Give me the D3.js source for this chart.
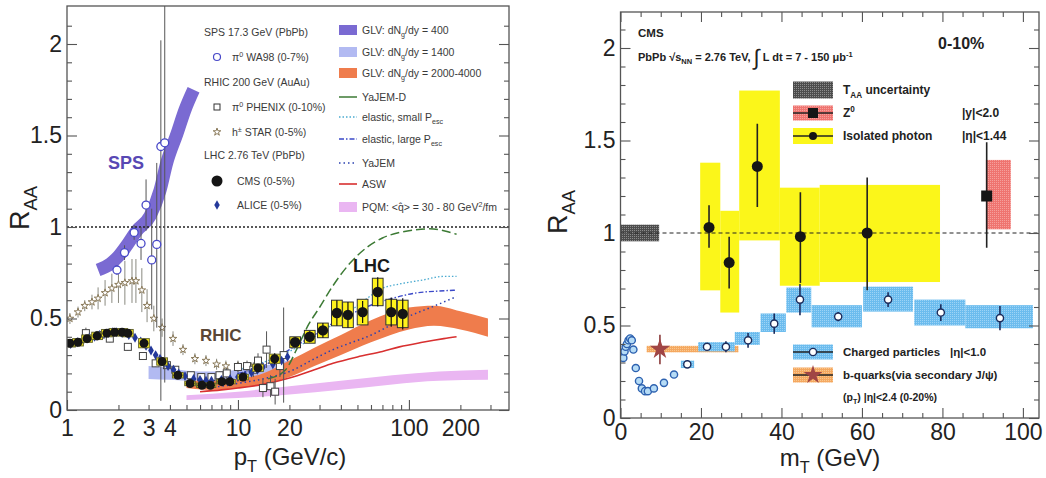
<!DOCTYPE html>
<html>
<head>
<meta charset="utf-8">
<script src="https://cdn.jsdelivr.net/npm/d3@7"></script>
<style>
body { margin: 0; background: #fff; }
svg { font-family: "Liberation Sans", Arial, sans-serif; }
</style>
</head>
<body>
<svg id="chart" width="1046" height="478"></svg>
<script>
// ---------- left panel data: R_AA vs pT ----------
var pTickLabels = [1, 2, 3, 4, 10, 20, 100, 200];
var rTickLabels = [0, 0.5, 1, 1.5, 2];

// GLV dNg/dy = 400 (SPS band, centre)
var glv400P = [1.52, 1.8, 2.0, 2.2, 2.56, 3.06, 3.5, 3.83, 4.4, 4.9, 5.5];
var glv400V = [0.765, 0.80, 0.84, 0.89, 0.98, 1.06, 1.2, 1.35, 1.51, 1.64, 1.75];
// GLV dNg/dy = 1400
var glv1400P = [3.0, 4, 5, 7, 10, 14, 19.6];
var glv1400Lo = [0.17, 0.165, 0.16, 0.16, 0.165, 0.175, 0.185];
var glv1400Hi = [0.24, 0.23, 0.215, 0.21, 0.22, 0.24, 0.27];
// GLV dNg/dy = 2000-4000
var glvLhcP = [5, 7, 10, 14, 20, 28, 40, 60, 100, 140, 200, 290];
var glvLhcLo = [0.12, 0.11, 0.12, 0.14, 0.18, 0.24, 0.30, 0.37, 0.44, 0.46, 0.44, 0.40];
var glvLhcHi = [0.16, 0.16, 0.17, 0.20, 0.27, 0.34, 0.41, 0.49, 0.56, 0.57, 0.54, 0.50];
// PQM
var pqmP = [5, 10, 20, 40, 80, 150, 290];
var pqmLo = [0.055, 0.065, 0.085, 0.11, 0.14, 0.16, 0.165];
var pqmHi = [0.08, 0.10, 0.13, 0.16, 0.19, 0.21, 0.22];
// model curves
var yajemDP = [15, 19, 22, 26, 30, 36, 45, 57, 70, 88, 110, 132, 160, 190];
var yajemDV = [0.17, 0.22, 0.33, 0.47, 0.56, 0.68, 0.80, 0.89, 0.94, 0.97, 0.985, 0.99, 0.98, 0.96];
var elSmallP = [10, 14, 20, 28, 40, 55, 70, 90, 120, 160, 190];
var elSmallV = [0.22, 0.26, 0.32, 0.40, 0.50, 0.60, 0.665, 0.69, 0.71, 0.73, 0.73];
var elLargeP = [10, 14, 20, 28, 36, 45, 57, 80, 111, 150, 190];
var elLargeV = [0.2, 0.24, 0.33, 0.41, 0.475, 0.52, 0.565, 0.61, 0.64, 0.65, 0.655];
var yajemP = [6, 8, 10, 14, 20, 28, 36, 45, 57, 70, 88, 111, 138, 190];
var yajemV = [0.12, 0.13, 0.145, 0.17, 0.21, 0.28, 0.33, 0.365, 0.40, 0.44, 0.49, 0.53, 0.565, 0.62];
var aswP = [6, 8, 10, 14, 20, 28, 36, 50, 70, 88, 120, 160, 190];
var aswV = [0.10, 0.11, 0.12, 0.14, 0.175, 0.22, 0.255, 0.29, 0.32, 0.345, 0.37, 0.39, 0.40];

// WA98 pi0
var wa98P = [1.96, 2.17, 2.47, 2.71, 2.9, 3.13, 3.35, 3.54, 3.73];
var wa98V = [0.765, 0.86, 0.97, 0.91, 1.12, 0.82, 0.905, 1.44, 1.46];
var wa98Lo = [0.74, 0.82, 0.93, 0.82, 0.98, 0.55, 0.45, 0.05, 0.15];
var wa98Hi = [0.79, 0.90, 1.01, 1.0, 1.26, 1.1, 1.35, 2.02, 2.3];
// STAR h+-
var starP = [1.04, 1.16, 1.27, 1.40, 1.52, 1.67, 1.83, 2.0, 2.18, 2.4, 2.53, 2.74, 2.94, 3.22, 3.6, 4.17, 4.77, 5.6, 6.5, 7.5, 8.5, 10, 12];
var starV = [0.50, 0.535, 0.57, 0.59, 0.61, 0.64, 0.665, 0.685, 0.695, 0.705, 0.705, 0.655, 0.57, 0.50, 0.45, 0.39, 0.33, 0.28, 0.27, 0.25, 0.24, 0.24, 0.23];
var starErr = [0.03, 0.03, 0.03, 0.04, 0.06, 0.07, 0.08, 0.1, 0.12, 0.12, 0.12, 0.12, 0.09, 0.07, 0.05, 0.04, 0.03, 0.03, 0.03, 0.03, 0.03, 0.03, 0.03];
// PHENIX pi0
var phxP = [1.07, 1.29, 1.55, 1.78, 2.27, 2.78, 3.3, 3.84, 4.3, 5.3, 6.1, 7.0, 7.8, 8.6, 10, 11.3, 12.3, 13.1, 14, 14.7, 15.5, 16.5, 17.6, 18.5];
var phxV = [0.365, 0.42, 0.41, 0.39, 0.345, 0.295, 0.255, 0.245, 0.22, 0.19, 0.18, 0.18, 0.19, 0.2, 0.235, 0.24, 0.22, 0.27, 0.12, 0.33, 0.13, 0.10, 0.24, 0.30];
var phxErr = [0.02, 0.03, 0.02, 0.02, 0.02, 0.02, 0.02, 0.02, 0.02, 0.02, 0.02, 0.02, 0.02, 0.03, 0.03, 0.03, 0.04, 0.04, 0.05, 0.1, 0.06, 0.07, 0.06, 0.26];
// ALICE
var aliceP = [1.05, 1.15, 1.25, 1.35, 1.45, 1.55, 1.65, 1.75, 1.85, 1.95, 2.1, 2.3, 2.5, 2.7, 2.9, 3.1, 3.3, 3.5, 3.7, 3.9, 4.2, 4.5, 4.9, 5.5, 6.0, 6.5, 7.0, 8.0, 9.0, 10, 11, 12, 13, 14, 16, 18, 19.5];
var aliceV = [0.36, 0.37, 0.385, 0.395, 0.40, 0.41, 0.415, 0.42, 0.425, 0.425, 0.42, 0.41, 0.395, 0.375, 0.35, 0.325, 0.30, 0.28, 0.26, 0.24, 0.22, 0.20, 0.185, 0.17, 0.165, 0.16, 0.16, 0.165, 0.17, 0.18, 0.19, 0.205, 0.22, 0.235, 0.25, 0.27, 0.29];
// CMS
var cmsP = [1.04, 1.16, 1.31, 1.5, 1.71, 1.9, 2.1, 2.27, 2.82, 3.6, 4.45, 5.25, 6.15, 6.9, 8.05, 8.97, 10.7, 13.1, 16.4, 21.6, 26.3, 31.4, 37.9, 44, 53.6, 65.7, 78.8, 92];
var cmsV = [0.365, 0.37, 0.39, 0.405, 0.42, 0.425, 0.425, 0.42, 0.365, 0.265, 0.19, 0.145, 0.135, 0.135, 0.155, 0.155, 0.18, 0.23, 0.28, 0.37, 0.40, 0.435, 0.53, 0.52, 0.535, 0.645, 0.535, 0.525];
var cmsStat = [0.01, 0.01, 0.01, 0.01, 0.01, 0.01, 0.01, 0.01, 0.01, 0.01, 0.01, 0.01, 0.01, 0.01, 0.01, 0.01, 0.015, 0.02, 0.03, 0.02, 0.03, 0.04, 0.07, 0.07, 0.06, 0.08, 0.08, 0.085];
var cmsSys = [0.02, 0.02, 0.02, 0.02, 0.02, 0.02, 0.02, 0.02, 0.025, 0.02, 0.015, 0.012, 0.012, 0.012, 0.012, 0.012, 0.015, 0.02, 0.025, 0.03, 0.035, 0.04, 0.07, 0.07, 0.07, 0.075, 0.07, 0.075];

// ---------- right panel data: R_AA vs mT ----------
var mTickLabels = [0, 20, 40, 60, 80, 100];
var taaBin = [0, 9.6], taaBand = [0.955, 1.045];

var photonM = [22.0, 27.0, 34.0, 44.7, 61.3];
var photonV = [1.03, 0.84, 1.36, 0.98, 1.0];
var photonLo = [0.92, 0.70, 1.14, 0.73, 0.69];
var photonHi = [1.15, 0.98, 1.59, 1.22, 1.30];
var photonBinLo = [19.8, 24.8, 29.5, 39.6, 49.5];
var photonBinHi = [24.8, 29.5, 39.6, 49.5, 79.4];
var photonSysLo = [0.69, 0.57, 0.96, 0.715, 0.735];
var photonSysHi = [1.38, 1.12, 1.77, 1.245, 1.26];

var zM = [91], zV = [1.20], zLo = [0.92], zHi = [1.49];
var zBinLo = [90.8], zBinHi = [97], zSysLo = [1.02], zSysHi = [1.395];

var chM = [16.6, 21.5, 26.2, 31.7, 38.2, 44.6, 54.1, 66.5, 79.6, 94.3];
var chV = [0.29, 0.385, 0.385, 0.42, 0.51, 0.64, 0.548, 0.64, 0.57, 0.54];
var chErr = [0.015, 0.02, 0.03, 0.04, 0.055, 0.085, 0.025, 0.04, 0.045, 0.065];
var chBinLo = [15, 19.3, 24.0, 28.4, 34.8, 41.2, 47.5, 60.3, 73, 85.7];
var chBinHi = [18.3, 24.0, 28.4, 34.6, 41.1, 47.4, 60, 72.7, 85.7, 102.5];
var chSysLo = [0.27, 0.36, 0.36, 0.395, 0.465, 0.57, 0.49, 0.575, 0.50, 0.485];
var chSysHi = [0.31, 0.41, 0.41, 0.465, 0.565, 0.705, 0.61, 0.71, 0.64, 0.61];
var chLowM = [0.7, 1.0, 1.3, 1.6, 2.0, 2.4, 2.8, 3.2, 3.8, 4.6, 5.3, 6.1, 6.8, 8.3, 10.8, 13.3];
var chLowV = [0.325, 0.36, 0.385, 0.40, 0.42, 0.43, 0.42, 0.37, 0.27, 0.20, 0.16, 0.145, 0.145, 0.16, 0.19, 0.235];

var bM = [9.8], bV = [0.372], bLo = [0.29], bHi = [0.45];
var bBinLo = [6.5], bBinHi = [29.3], bSysLo = [0.355], bSysHi = [0.39];

// ---------- setup ----------
var svg = d3.select('#chart');
var defs = svg.append('defs');

function dotPattern(id, base, dot, size) {
  var p = defs.append('pattern').attr('id', id).attr('width', size).attr('height', size)
    .attr('patternUnits', 'userSpaceOnUse');
  p.append('rect').attr('width', size).attr('height', size).attr('fill', base);
  p.append('rect').attr('width', 1).attr('height', 1).attr('fill', dot);
}
dotPattern('taaPat', '#4c4c4c', '#8c8c8c', 2);
dotPattern('chPat', '#6cbcee', '#9dd4f6', 2);
dotPattern('zPat', '#ef7470', '#f5a09c', 2);
dotPattern('bPat', '#f5a860', '#f8c890', 2);

function rich(g, x, y, parts, size) {
  var t = g.append('text').attr('x', x).attr('y', y).style('font-size', size + 'px');
  var shift = 0;
  parts.forEach(function(p) {
    var s = typeof p === 'string' ? p : p[0];
    var kind = typeof p === 'string' ? null : p[1];
    var target = kind === 'sub' ? size * 0.3 : kind === 'sup' ? -size * 0.4 : 0;
    var ts = t.append('tspan').attr('dy', target - shift).text(s);
    if (kind) ts.style('font-size', (size * 0.68) + 'px');
    shift = target;
  });
  return t;
}

function isMajorHalf(d) { return Math.abs(d * 2 - Math.round(d * 2)) < 1e-6; }
function styleAxis(g, size) {
  g.select('.domain').remove();
  g.selectAll('.tick line').attr('stroke', '#555').attr('stroke-width', 1.1);
  g.selectAll('.tick text').attr('fill', '#222').style('font-size', size + 'px')
    .style('font-family', '"Liberation Sans", Arial, sans-serif');
}
function fmtR(d) { return rTickLabels.indexOf(+d.toFixed(2)) >= 0 ? d3.format('')(+d.toFixed(2)) : ''; }

var lineGen = function(x, y) {
  return d3.line().x(function(d) { return x(d[0]); }).y(function(d) { return y(d[1]); }).curve(d3.curveMonotoneX);
};
var areaGen = function(x, y) {
  return d3.area().x(function(d) { return x(d[0]); }).y0(function(d) { return y(d[1]); })
    .y1(function(d) { return y(d[2]); }).curve(d3.curveMonotoneX);
};
function zip2(a, b) { return a.map(function(v, i) { return [v, b[i]]; }); }
function zip3(a, b, c) { return a.map(function(v, i) { return [v, b[i], c[i]]; }); }

// ================= LEFT PANEL =================
var L = { l: 67, r: 509, t: 6, b: 410 };
var xL = d3.scaleLog().domain([1, 385]).range([L.l, L.r]);
var yL = d3.scaleLinear().domain([0, 2.2]).range([L.b, L.b - 2.2 * 183]);

var left = svg.append('g');
defs.append('clipPath').attr('id', 'clipL').append('rect')
  .attr('x', L.l).attr('y', L.t).attr('width', L.r - L.l).attr('height', L.b - L.t);
var plotL = left.append('g').attr('clip-path', 'url(#clipL)');

// bands
plotL.append('path').datum(zip3(pqmP, pqmLo, pqmHi)).attr('d', areaGen(xL, yL)).attr('fill', '#eab6f2');
plotL.append('path').datum(zip3(glv1400P, glv1400Lo, glv1400Hi)).attr('d', areaGen(xL, yL)).attr('fill', '#b2baf2');
plotL.append('path').datum(zip3(glvLhcP, glvLhcLo, glvLhcHi)).attr('d', areaGen(xL, yL)).attr('fill', '#ef7c4c');
plotL.append('path').datum(zip2(glv400P, glv400V)).attr('d', lineGen(xL, yL))
  .attr('fill', 'none').attr('stroke', '#7a6ad2').attr('stroke-width', 13);

// model curves
plotL.append('path').datum(zip2(aswP, aswV)).attr('d', lineGen(xL, yL))
  .attr('fill', 'none').attr('stroke', '#d83030').attr('stroke-width', 1.6);
plotL.append('path').datum(zip2(yajemP, yajemV)).attr('d', lineGen(xL, yL))
  .attr('fill', 'none').attr('stroke', '#2a40b0').attr('stroke-width', 1.5).attr('stroke-dasharray', '1.5,3');
plotL.append('path').datum(zip2(elLargeP, elLargeV)).attr('d', lineGen(xL, yL))
  .attr('fill', 'none').attr('stroke', '#3a48c8').attr('stroke-width', 1.4).attr('stroke-dasharray', '5,2,1.5,2');
plotL.append('path').datum(zip2(elSmallP, elSmallV)).attr('d', lineGen(xL, yL))
  .attr('fill', 'none').attr('stroke', '#4aaad0').attr('stroke-width', 1.3).attr('stroke-dasharray', '1.5,2');
plotL.append('path').datum(zip2(yajemDP, yajemDV)).attr('d', lineGen(xL, yL))
  .attr('fill', 'none').attr('stroke', '#3c7a34').attr('stroke-width', 1.5).attr('stroke-dasharray', '9,4');

// reference line
plotL.append('line').attr('x1', L.l).attr('x2', L.r).attr('y1', yL(1)).attr('y2', yL(1))
  .attr('stroke', '#222').attr('stroke-width', 1.6).attr('stroke-dasharray', '2,2');

// STAR
plotL.selectAll('.starErr').data(zip3(starP, starV, starErr)).enter().append('line')
  .attr('x1', function(d) { return xL(d[0]); }).attr('x2', function(d) { return xL(d[0]); })
  .attr('y1', function(d) { return yL(d[1] - d[2]); }).attr('y2', function(d) { return yL(d[1] + d[2]); })
  .attr('stroke', '#8a8a80').attr('stroke-width', 1);
plotL.selectAll('.starPt').data(zip2(starP, starV)).enter().append('path')
  .attr('d', d3.symbol().type(d3.symbolStar).size(18))
  .attr('transform', function(d) { return 'translate(' + xL(d[0]) + ',' + yL(d[1]) + ')'; })
  .attr('fill', '#fff').attr('stroke', '#8a7a5a').attr('stroke-width', 1);

// PHENIX
plotL.selectAll('.phxErr').data(zip3(phxP, phxV, phxErr)).enter().append('line')
  .attr('x1', function(d) { return xL(d[0]); }).attr('x2', function(d) { return xL(d[0]); })
  .attr('y1', function(d) { return yL(d[1] - d[2]); }).attr('y2', function(d) { return yL(d[1] + d[2]); })
  .attr('stroke', '#555').attr('stroke-width', 1);
plotL.selectAll('.phxPt').data(zip2(phxP, phxV)).enter().append('rect')
  .attr('x', function(d) { return xL(d[0]) - 3.5; }).attr('y', function(d) { return yL(d[1]) - 3.5; })
  .attr('width', 7).attr('height', 7).attr('fill', '#fff').attr('stroke', '#444').attr('stroke-width', 1);

// WA98
plotL.selectAll('.waErr').data(zip3(wa98P, wa98Lo, wa98Hi)).enter().append('line')
  .attr('x1', function(d) { return xL(d[0]); }).attr('x2', function(d) { return xL(d[0]); })
  .attr('y1', function(d) { return yL(d[1]); }).attr('y2', function(d) { return yL(d[2]); })
  .attr('stroke', '#555').attr('stroke-width', 1);
plotL.selectAll('.waPt').data(zip2(wa98P, wa98V)).enter().append('circle')
  .attr('cx', function(d) { return xL(d[0]); }).attr('cy', function(d) { return yL(d[1]); })
  .attr('r', 4).attr('fill', '#fff').attr('stroke', '#4848c8').attr('stroke-width', 1.3);

// ALICE
plotL.selectAll('.alPt').data(zip2(aliceP, aliceV)).enter().append('path')
  .attr('d', d3.symbol().type(d3.symbolDiamond).size(28))
  .attr('transform', function(d) { return 'translate(' + xL(d[0]) + ',' + yL(d[1]) + ')'; })
  .attr('fill', '#23389a');

// CMS
var boxF = 1.075;
var cmsData = cmsP.map(function(p, i) { return { p: p, v: cmsV[i], st: cmsStat[i], sy: cmsSys[i] }; });
plotL.selectAll('.cmsBox').data(cmsData).enter().append('rect')
  .attr('x', function(d) { return xL(d.p / boxF); })
  .attr('width', function(d) { return xL(d.p * boxF) - xL(d.p / boxF); })
  .attr('y', function(d) { return yL(d.v + d.sy); })
  .attr('height', function(d) { return yL(d.v - d.sy) - yL(d.v + d.sy); })
  .attr('fill', '#fff21c').attr('stroke', function(d) { return d.p > 20 ? '#333' : '#6a6a30'; }).attr('stroke-width', 1);
plotL.selectAll('.cmsErr').data(cmsData).enter().append('line')
  .attr('x1', function(d) { return xL(d.p); }).attr('x2', function(d) { return xL(d.p); })
  .attr('y1', function(d) { return yL(d.v - d.st); }).attr('y2', function(d) { return yL(d.v + d.st); })
  .attr('stroke', '#111').attr('stroke-width', 1.2);
plotL.selectAll('.cmsPt').data(cmsData).enter().append('circle')
  .attr('cx', function(d) { return xL(d.p); }).attr('cy', function(d) { return yL(d.v); })
  .attr('r', function(d) { return d.p > 20 ? 5.2 : 4.5; }).attr('fill', '#151515');

// text labels
left.append('text').attr('x', 108).attr('y', 169).text('SPS')
  .style('font-size', '18px').style('font-weight', 'bold').attr('fill', '#5848b4');
left.append('text').attr('x', 200).attr('y', 341).text('RHIC')
  .style('font-size', '17px').style('font-weight', 'bold').attr('fill', '#5a4636');
left.append('text').attr('x', 353).attr('y', 272).text('LHC')
  .style('font-size', '18px').style('font-weight', 'bold').attr('fill', '#1a1a1a');

// legend column 1
var lg1 = left.append('g').attr('fill', '#3a3a3a');
rich(lg1, 204, 36, ['SPS 17.3 GeV (PbPb)'], 10.5);
rich(lg1, 232, 61, ['π', ['0', 'sup'], '  WA98 (0-7%)'], 10.5);
rich(lg1, 204, 86, ['RHIC 200 GeV (AuAu)'], 10.5);
rich(lg1, 232, 111, ['π', ['0', 'sup'], '  PHENIX (0-10%)'], 10.5);
rich(lg1, 232, 136, ['h', ['±', 'sup'], '  STAR (0-5%)'], 10.5);
rich(lg1, 204, 159, ['LHC 2.76 TeV (PbPb)'], 10.5);
rich(lg1, 237, 185, ['CMS (0-5%)'], 10.5);
rich(lg1, 237, 209, ['ALICE (0-5%)'], 10.5);
left.append('circle').attr('cx', 217).attr('cy', 57).attr('r', 3.5).attr('fill', '#fff').attr('stroke', '#4848c8').attr('stroke-width', 1.2);
left.append('rect').attr('x', 214).attr('y', 104).attr('width', 6).attr('height', 6).attr('fill', '#fff').attr('stroke', '#333');
left.append('path').attr('d', d3.symbol().type(d3.symbolStar).size(18)).attr('transform', 'translate(217,132)')
  .attr('fill', '#fff').attr('stroke', '#8a7a5a');
left.append('circle').attr('cx', 217).attr('cy', 181).attr('r', 5.5).attr('fill', '#151515');
left.append('path').attr('d', d3.symbol().type(d3.symbolDiamond).size(26)).attr('transform', 'translate(217,205)').attr('fill', '#23389a');

// legend column 2
var lg2 = left.append('g').attr('fill', '#3a3a3a');
var sw = 339, sww = 18;
left.append('rect').attr('x', sw).attr('y', 25).attr('width', sww).attr('height', 10).attr('fill', '#7a6ad2');
left.append('rect').attr('x', sw).attr('y', 47).attr('width', sww).attr('height', 10).attr('fill', '#b2baf2');
left.append('rect').attr('x', sw).attr('y', 68).attr('width', sww).attr('height', 10).attr('fill', '#ef7c4c');
left.append('line').attr('x1', sw).attr('x2', sw + sww).attr('y1', 97).attr('y2', 97).attr('stroke', '#3c7a34').attr('stroke-width', 1.5);
left.append('line').attr('x1', sw).attr('x2', sw + sww).attr('y1', 117).attr('y2', 117).attr('stroke', '#4aaad0').attr('stroke-width', 1.3).attr('stroke-dasharray', '1.5,2');
left.append('line').attr('x1', sw).attr('x2', sw + sww).attr('y1', 139).attr('y2', 139).attr('stroke', '#3a48c8').attr('stroke-width', 1.4).attr('stroke-dasharray', '5,2,1.5,2');
left.append('line').attr('x1', sw).attr('x2', sw + sww).attr('y1', 163).attr('y2', 163).attr('stroke', '#2a40b0').attr('stroke-width', 1.5).attr('stroke-dasharray', '1.5,3');
left.append('line').attr('x1', sw).attr('x2', sw + sww).attr('y1', 184).attr('y2', 184).attr('stroke', '#d83030').attr('stroke-width', 1.6);
left.append('rect').attr('x', sw).attr('y', 202).attr('width', sww).attr('height', 10).attr('fill', '#eab6f2');
rich(lg2, 362, 34, ['GLV: dN', ['g', 'sub'], '/dy = 400'], 10.5);
rich(lg2, 362, 56, ['GLV: dN', ['g', 'sub'], '/dy = 1400'], 10.5);
rich(lg2, 362, 77, ['GLV: dN', ['g', 'sub'], '/dy = 2000-4000'], 10.5);
rich(lg2, 362, 101, ['YaJEM-D'], 10.5);
rich(lg2, 362, 121, ['elastic, small P', ['esc', 'sub']], 10.5);
rich(lg2, 362, 143, ['elastic, large P', ['esc', 'sub']], 10.5);
rich(lg2, 362, 167, ['YaJEM'], 10.5);
rich(lg2, 362, 188, ['ASW'], 10.5);
rich(lg2, 362, 211, ['PQM: <q̂> = 30 - 80 GeV', ['2', 'sup'], '/fm'], 10.5);

// axes
var rMinor = d3.range(0, 22).map(function(i) { return i / 10; });
var gyl = left.append('g').attr('transform', 'translate(' + L.l + ',0)')
  .call(d3.axisLeft(yL).tickValues(rMinor).tickSize(-5).tickPadding(5).tickFormat(fmtR));
gyl.selectAll('.tick line').filter(isMajorHalf).attr('x2', 10);
styleAxis(gyl, 23);
var gyr = left.append('g').attr('transform', 'translate(' + L.r + ',0)')
  .call(d3.axisRight(yL).tickValues(rMinor).tickSize(-5).tickFormat(''));
gyr.selectAll('.tick line').filter(isMajorHalf).attr('x2', -10);
styleAxis(gyr, 23);
var pMinor = [1, 2, 3, 4, 5, 6, 7, 8, 9, 10, 20, 30, 40, 50, 60, 70, 80, 90, 100, 200, 300];
var gxl = left.append('g').attr('transform', 'translate(0,' + L.b + ')')
  .call(d3.axisBottom(xL).tickValues(pMinor).tickSize(-5).tickPadding(10)
    .tickFormat(function(d) { return pTickLabels.indexOf(d) >= 0 ? d : ''; }));
gxl.selectAll('.tick line').filter(function(d) { return d === 1 || d === 10 || d === 100; }).attr('y2', -10);
styleAxis(gxl, 23);
left.append('rect').attr('x', L.l).attr('y', L.t).attr('width', L.r - L.l).attr('height', L.b - L.t)
  .attr('fill', 'none').attr('stroke', '#555').attr('stroke-width', 1.3);

rich(left, 0, 0, ['R', ['AA', 'sub']], 27).attr('fill', '#222').attr('text-anchor', 'middle')
  .attr('transform', 'translate(29,208) rotate(-90)');
rich(left, 290, 465, ['p', ['T', 'sub'], ' (GeV/c)'], 24).attr('fill', '#222').attr('text-anchor', 'middle');

// ================= RIGHT PANEL =================
var R = { l: 620.5, r: 1039, t: 12, b: 418 };
var xR = d3.scaleLinear().domain([0, 104]).range([R.l, R.r]);
var yR = d3.scaleLinear().domain([0, 2.19]).range([R.b, R.b - 2.19 * 185]);
var right = svg.append('g');
defs.append('clipPath').attr('id', 'clipR').append('rect')
  .attr('x', R.l).attr('y', R.t).attr('width', R.r - R.l).attr('height', R.b - R.t);
var plotR = right.append('g').attr('clip-path', 'url(#clipR)');

function binBoxes(g, lo, hi, sLo, sHi, fill) {
  g.selectAll(null).data(lo.map(function(v, i) { return [v, hi[i], sLo[i], sHi[i]]; })).enter().append('rect')
    .attr('x', function(d) { return xR(d[0]); }).attr('width', function(d) { return xR(d[1]) - xR(d[0]); })
    .attr('y', function(d) { return yR(d[3]); }).attr('height', function(d) { return yR(d[2]) - yR(d[3]); })
    .attr('fill', fill);
}
function errBars(g, m, lo, hi, color) {
  g.selectAll(null).data(m.map(function(v, i) { return [v, lo[i], hi[i]]; })).enter().append('line')
    .attr('x1', function(d) { return xR(d[0]); }).attr('x2', function(d) { return xR(d[0]); })
    .attr('y1', function(d) { return yR(d[1]); }).attr('y2', function(d) { return yR(d[2]); })
    .attr('stroke', color).attr('stroke-width', 1.6);
}

binBoxes(plotR, [taaBin[0]], [taaBin[1]], [taaBand[0]], [taaBand[1]], 'url(#taaPat)');
binBoxes(plotR, photonBinLo, photonBinHi, photonSysLo, photonSysHi, '#fbf61a');
binBoxes(plotR, zBinLo, zBinHi, zSysLo, zSysHi, 'url(#zPat)');
binBoxes(plotR, bBinLo, bBinHi, bSysLo, bSysHi, 'url(#bPat)');
binBoxes(plotR, chBinLo, chBinHi, chSysLo, chSysHi, 'url(#chPat)');

plotR.append('line').attr('x1', xR(0)).attr('x2', xR(104)).attr('y1', yR(1)).attr('y2', yR(1))
  .attr('stroke', '#222').attr('stroke-width', 1).attr('stroke-dasharray', '4,3');

errBars(plotR, photonM, photonLo, photonHi, '#222');
errBars(plotR, zM, zLo, zHi, '#222');
errBars(plotR, bM, bLo, bHi, '#8a3a3a');
errBars(plotR, chM, chM.map(function(m, i) { return chV[i] - chErr[i]; }), chM.map(function(m, i) { return chV[i] + chErr[i]; }), '#1c2c5c');

plotR.selectAll('.ph').data(zip2(photonM, photonV)).enter().append('circle')
  .attr('cx', function(d) { return xR(d[0]); }).attr('cy', function(d) { return yR(d[1]); })
  .attr('r', 5.5).attr('fill', '#151515');
plotR.selectAll('.zz').data(zip2(zM, zV)).enter().append('rect')
  .attr('x', function(d) { return xR(d[0]) - 5.5; }).attr('y', function(d) { return yR(d[1]) - 5.5; })
  .attr('width', 11).attr('height', 11).attr('fill', '#151515');
plotR.selectAll('.bq').data(zip2(bM, bV)).enter().append('path')
  .attr('d', d3.symbol().type(d3.symbolStar).size(130))
  .attr('transform', function(d) { return 'translate(' + xR(d[0]) + ',' + yR(d[1]) + ')'; })
  .attr('fill', '#a04545');
plotR.selectAll('.chl').data(zip2(chLowM, chLowV)).enter().append('circle')
  .attr('cx', function(d) { return xR(d[0]); }).attr('cy', function(d) { return yR(d[1]); })
  .attr('r', 3.6).attr('fill', '#b6dcf6').attr('stroke', '#2e62b0').attr('stroke-width', 1.4);
plotR.selectAll('.chh').data(zip2(chM, chV)).enter().append('circle')
  .attr('cx', function(d) { return xR(d[0]); }).attr('cy', function(d) { return yR(d[1]); })
  .attr('r', 3.6).attr('fill', '#fff').attr('stroke', '#1c2c5c').attr('stroke-width', 1.4);

// header texts
var hdr = right.append('g').attr('fill', '#222').style('font-weight', 'bold');
rich(hdr, 638, 37, ['CMS'], 11.5);
var h2 = rich(hdr, 638, 61, ['PbPb ', '√', 's', ['NN', 'sub'], ' = 2.76 TeV, '], 11);
h2.append('tspan').style('font-size', '22px').style('font-weight', 'normal').attr('dy', 4).text('∫');
h2.append('tspan').attr('dy', -4).text(' L dt = 7 - 150 μb');
h2.append('tspan').attr('dy', -4.5).style('font-size', '7.5px').text('-1');
rich(hdr, 938, 49, ['0-10%'], 16);

// legend
var lgx = 793, lgw = 40, lgt = 843;
function legendRow(y, fill, h) {
  right.append('rect').attr('x', lgx).attr('y', y - h / 2).attr('width', lgw).attr('height', h).attr('fill', fill);
}
legendRow(90, 'url(#taaPat)', 17);
legendRow(113, 'url(#zPat)', 15);
legendRow(136, '#fbf61a', 16);
legendRow(352, 'url(#chPat)', 15);
legendRow(375, 'url(#bPat)', 15);
[113, 136, 352, 375].forEach(function(y) {
  right.append('line').attr('x1', lgx).attr('x2', lgx + lgw).attr('y1', y).attr('y2', y)
    .attr('stroke', '#222').attr('stroke-width', 1.6);
});
right.append('rect').attr('x', 813 - 5).attr('y', 113 - 5).attr('width', 10).attr('height', 10).attr('fill', '#151515');
right.append('circle').attr('cx', 813).attr('cy', 136).attr('r', 4).attr('fill', '#151515');
right.append('circle').attr('cx', 813).attr('cy', 352).attr('r', 3.6).attr('fill', '#fff').attr('stroke', '#1c2c5c').attr('stroke-width', 1.4);
right.append('path').attr('d', d3.symbol().type(d3.symbolStar).size(110)).attr('transform', 'translate(813,375)').attr('fill', '#a04545');

var lgt2 = right.append('g').attr('fill', '#222').style('font-weight', 'bold');
rich(lgt2, lgt, 94, ['T', ['AA', 'sub'], ' uncertainty'], 12);
rich(lgt2, lgt, 117, ['Z', ['0', 'sup']], 12);
rich(lgt2, 962, 117, ['|y|<2.0'], 12);
rich(lgt2, lgt, 140, ['Isolated photon'], 12);
rich(lgt2, 962, 140, ['|η|<1.44'], 12);
rich(lgt2, lgt, 356, ['Charged particles'], 11.5);
rich(lgt2, 950, 356, ['|η|<1.0'], 11.5);
rich(lgt2, lgt, 379, ['b-quarks(via secondary J/ψ)'], 11.5);
rich(lgt2, lgt, 401, ['(p', ['T', 'sub'], ') |η|<2.4 (0-20%)'], 10.5);

// axes
var gry = right.append('g').attr('transform', 'translate(' + R.l + ',0)')
  .call(d3.axisLeft(yR).tickValues(rMinor).tickSize(-5).tickPadding(5).tickFormat(fmtR));
gry.selectAll('.tick line').filter(isMajorHalf).attr('x2', 10);
styleAxis(gry, 23);
var grr = right.append('g').attr('transform', 'translate(' + R.r + ',0)')
  .call(d3.axisRight(yR).tickValues(rMinor).tickSize(-5).tickFormat(''));
grr.selectAll('.tick line').filter(isMajorHalf).attr('x2', -10);
styleAxis(grr, 23);
var mMinor = d3.range(0, 105, 5);
var grx = right.append('g').attr('transform', 'translate(0,' + R.b + ')')
  .call(d3.axisBottom(xR).tickValues(mMinor).tickSize(-5).tickPadding(6)
    .tickFormat(function(d) { return mTickLabels.indexOf(d) >= 0 ? d : ''; }));
grx.selectAll('.tick line').filter(function(d) { return d % 20 === 0; }).attr('y2', -10);
styleAxis(grx, 23);
var grt = right.append('g').attr('transform', 'translate(0,' + R.t + ')')
  .call(d3.axisTop(xR).tickValues(mMinor).tickSize(-5).tickFormat(''));
grt.selectAll('.tick line').filter(function(d) { return d % 20 === 0; }).attr('y2', 10);
styleAxis(grt, 23);
right.append('rect').attr('x', R.l).attr('y', R.t).attr('width', R.r - R.l).attr('height', R.b - R.t)
  .attr('fill', 'none').attr('stroke', '#555').attr('stroke-width', 1.3);

rich(right, 0, 0, ['R', ['AA', 'sub']], 27).attr('fill', '#222').attr('text-anchor', 'middle')
  .attr('transform', 'translate(567,212) rotate(-90)');
rich(right, 830, 466, ['m', ['T', 'sub'], ' (GeV)'], 24).attr('fill', '#222').attr('text-anchor', 'middle');
</script>
</body>
</html>
